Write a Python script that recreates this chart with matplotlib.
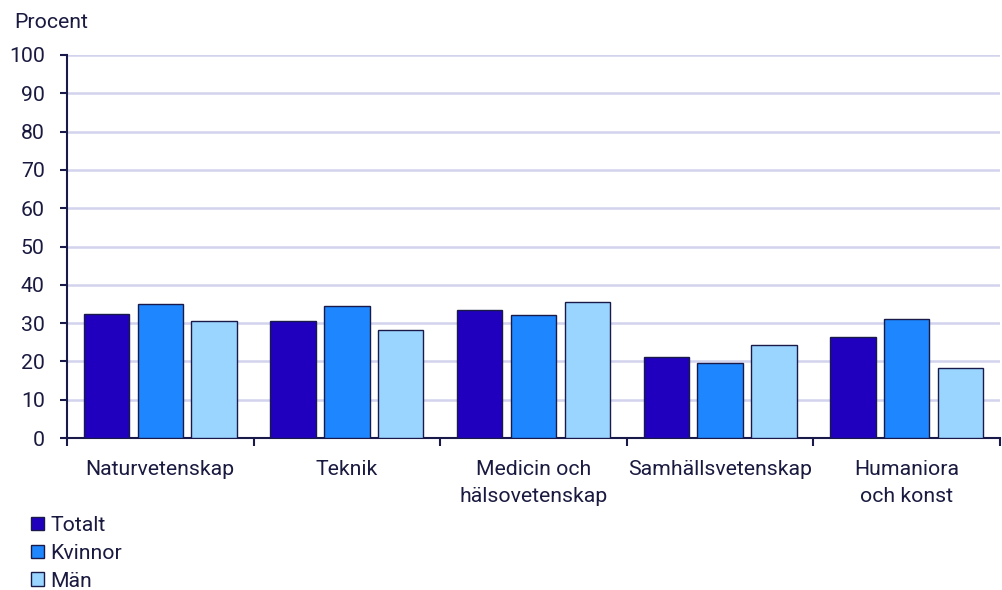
import numpy as np
import matplotlib
matplotlib.use('Agg')
import matplotlib.pyplot as plt
from matplotlib.patches import Patch

categories = ['Naturvetenskap', 'Teknik', 'Medicin och\nhälsovetenskap',
              'Samhällsvetenskap', 'Humaniora\noch konst']
totalt = [32.4, 30.5, 33.4, 21.2, 26.3]
kvinnor = [35.0, 34.4, 32.2, 19.5, 31.1]
man = [30.6, 28.3, 35.4, 24.3, 18.3]
series_names = ['Totalt', 'Kvinnor', 'Män']

colors = ['#2000BE', '#1E87FF', '#9AD5FF']
edge = '#1A1A4A'
text_col = '#1A1A40'

plt.rcParams['font.family'] = ['Roboto', 'DejaVu Sans']
plt.rcParams['font.size'] = 15.3

W, H = 1002, 590
fig = plt.figure(figsize=(W / 100, H / 100), dpi=100)
ax = fig.add_axes([67 / W, (H - 438) / H, (1000 - 67) / W, (438 - 55) / H])

x = np.arange(len(categories))
width = 0.243
offsets = [-0.288, 0, 0.288]
for vals, off, c in zip([totalt, kvinnor, man], offsets, colors):
    ax.bar(x + off, vals, width, color=c, edgecolor=edge, linewidth=1, zorder=3)

ax.set_ylim(0, 100)
ax.set_xlim(-0.5, -0.5 + 933 / 189)
ax.set_yticks(range(0, 101, 10))
ax.yaxis.grid(True, color='#D3D3EE', linewidth=1.8, zorder=0)
ax.set_axisbelow(True)

for s in ['top', 'right']:
    ax.spines[s].set_visible(False)
for s in ['left', 'bottom']:
    ax.spines[s].set_color(edge)
    ax.spines[s].set_linewidth(1.5)

ax.set_xticks(np.arange(-0.5, len(categories), 1.0))
ax.set_xticklabels([])
ax.set_xticks(x, minor=True)
ax.set_xticklabels(categories, minor=True, color=text_col, linespacing=1.5)
ax.tick_params(axis='x', which='major', length=6, width=1.5, color=edge)
ax.tick_params(axis='x', which='minor', length=0, pad=16)
ax.tick_params(axis='y', length=5, width=1.5, color=edge, labelcolor=text_col, pad=11)

fig.text(14 / W, 1 - 22 / H, 'Procent', color=text_col, va='center', ha='left')

handles = [Patch(facecolor=c, edgecolor=edge, linewidth=1) for c in colors]
fig.legend(handles, series_names, loc='upper left', bbox_to_anchor=(31 / W, 1 - 516 / H),
           frameon=False, handlelength=0.62, handleheight=0.62, handletextpad=0.28,
           labelspacing=0.42, labelcolor=text_col, borderaxespad=0, borderpad=0)

fig.savefig('out.png', dpi=100)
